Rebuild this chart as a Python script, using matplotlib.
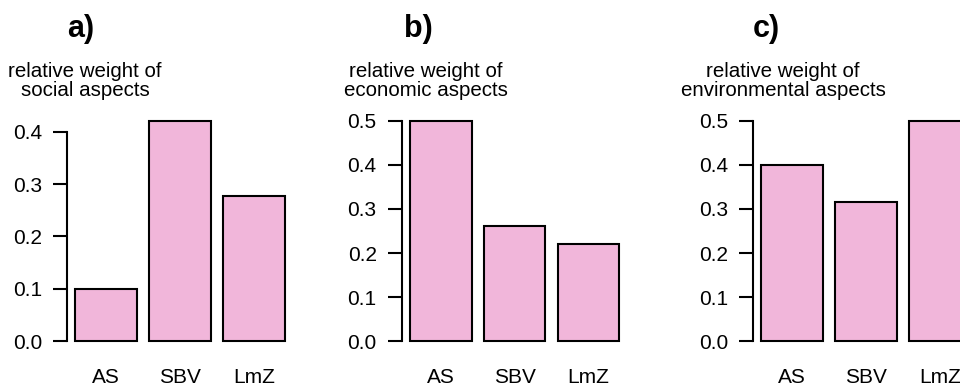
import numpy as np
import matplotlib.pyplot as plt

plt.rcParams['font.family'] = ['Liberation Sans', 'DejaVu Sans']

# Group names and relative weights for the three aspects
groups = ['AS', 'SBV', 'LmZ']
social = [0.10, 0.421, 0.277]
economic = [0.50, 0.262, 0.221]
environmental = [0.40, 0.316, 0.50]

panel_letters = ['a)', 'b)', 'c)']
panel_titles = ['relative weight of\nsocial aspects',
                'relative weight of\neconomic aspects',
                'relative weight of\nenvironmental aspects']
panel_ticks = [[0.0, 0.1, 0.2, 0.3, 0.4],
               [0.0, 0.1, 0.2, 0.3, 0.4, 0.5],
               [0.0, 0.1, 0.2, 0.3, 0.4, 0.5]]

bar_col = '#F1B6DA'
W, H = 960.0, 392.0

fig = plt.figure(figsize=(9.6, 3.92), dpi=100)

# left edge of each plot region (px), letter / title centres (px)
lefts = [67, 401.7, 753]
letter_x = [81, 418, 766]
title_x = [85, 426, 783]

# bar layout like R barplot: width 1, space 0.2
centres = 0.7 + 1.2 * np.arange(3)
xlim = (0.2 - 0.136, 3.6 + 0.136)

for k, vals in enumerate([social, economic, environmental]):
    ax = fig.add_axes([lefts[k] / W, (H - 350) / H, 226 / W, 238 / H])
    ax.bar(centres, vals, width=1.0, color=bar_col, edgecolor='black', linewidth=1.5)
    top = max(vals)
    ax.set_xlim(xlim)
    ax.set_ylim(-0.04 * top, top * 1.04)
    ax.set_xticks(centres)
    ax.set_xticklabels(groups, fontsize=15)
    ax.tick_params(axis='x', length=0, pad=13)
    ax.set_yticks(panel_ticks[k])
    ax.set_yticklabels(['%.1f' % t for t in panel_ticks[k]], fontsize=15)
    ax.tick_params(axis='y', length=10, width=1.5, pad=8)
    for s in ['top', 'right', 'bottom']:
        ax.spines[s].set_visible(False)
    ax.spines['left'].set_linewidth(1.5)
    ax.spines['left'].set_bounds(0, panel_ticks[k][-1])
    ax.patch.set_alpha(0)

    fig.text(letter_x[k] / W, 1 - 29 / H, panel_letters[k], fontsize=22,
             fontweight='bold', ha='center', va='center')
    fig.text(title_x[k] / W, 1 - 81 / H, panel_titles[k], fontsize=14.8,
             ha='center', va='center', linespacing=0.95)

plt.savefig('out.png', dpi=100)
